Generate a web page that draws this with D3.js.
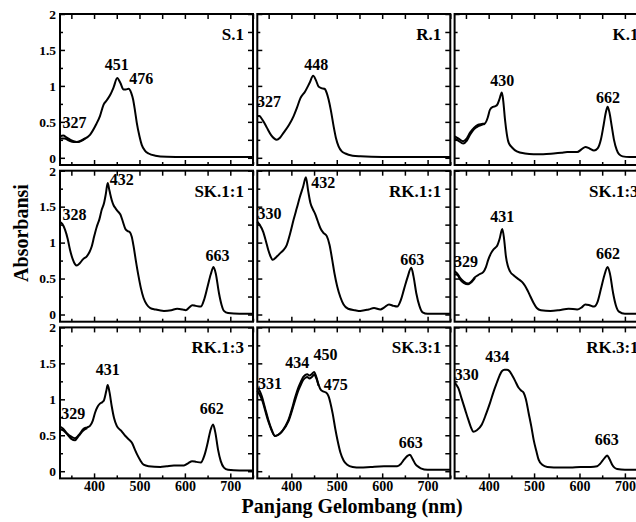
<!DOCTYPE html>
<html>
<head>
<meta charset="utf-8">
<script src="https://cdn.jsdelivr.net/npm/d3@7"></script>
<style>
  body { margin: 0; background: #fff; }
  svg { display: block; }
</style>
</head>
<body>
<div id="chart"></div>
<script>
// spectra: [wavelength nm, absorbance]
var s1 = [[325,0.30],[332,0.31],[340,0.28],[348,0.25],[355,0.23],[362,0.22],[375,0.25],[391,0.32],[405,0.47],[413,0.58],[421,0.74],[428,0.80],[436,0.88],[443,0.98],[451,1.11],[458,1.04],[465,0.95],[470,0.95],[476,0.96],[482,0.90],[486,0.81],[490,0.66],[494,0.49],[500,0.30],[505,0.18],[512,0.10],[520,0.06],[535,0.03],[560,0.015],[600,0.01],[650,0.01],[700,0.01],[750,0.01]];
var s1b = [[325,0.27],[335,0.27],[345,0.24],[355,0.22],[365,0.22],[380,0.27]];
var r1 = [[325,0.58],[330,0.58],[334,0.55],[340,0.49],[346,0.42],[355,0.32],[362,0.27],[368,0.25],[375,0.28],[383,0.35],[395,0.46],[405,0.58],[412,0.69],[420,0.83],[430,0.92],[440,1.04],[448,1.14],[454,1.08],[460,0.99],[466,0.97],[473,0.96],[478,0.90],[482,0.81],[487,0.66],[493,0.44],[498,0.28],[504,0.16],[511,0.09],[519,0.06],[535,0.03],[552,0.02],[600,0.01],[650,0.01],[700,0.01],[750,0.01]];
var k1 = [[325,0.30],[333,0.27],[344,0.23],[352,0.27],[359,0.35],[368,0.42],[377,0.46],[385,0.47],[392,0.48],[398,0.56],[403,0.67],[410,0.71],[415,0.72],[419,0.74],[424,0.82],[429,0.91],[432,0.80],[436,0.53],[440,0.33],[444,0.21],[452,0.14],[462,0.09],[480,0.06],[499,0.05],[520,0.05],[543,0.06],[560,0.07],[573,0.08],[595,0.08],[605,0.12],[613,0.15],[622,0.13],[632,0.10],[640,0.13],[647,0.25],[653,0.45],[658,0.63],[662,0.71],[666,0.63],[671,0.44],[676,0.25],[682,0.11],[687,0.05],[695,0.02],[710,0.01],[750,0.01]];
var k1b = [[325,0.27],[333,0.24],[344,0.20],[352,0.24],[359,0.32],[368,0.40],[377,0.44],[385,0.46],[392,0.47]];
var sk11 = [[325,1.29],[330,1.26],[336,1.18],[342,1.05],[347,0.90],[353,0.77],[358,0.70],[362,0.68],[368,0.71],[376,0.77],[384,0.81],[390,0.87],[395,0.95],[400,1.08],[406,1.22],[412,1.33],[417,1.46],[422,1.55],[426,1.68],[430,1.83],[434,1.72],[439,1.59],[443,1.52],[447,1.48],[453,1.43],[458,1.39],[463,1.30],[469,1.19],[474,1.16],[478,1.15],[483,1.08],[487,0.95],[492,0.75],[498,0.53],[503,0.37],[509,0.23],[516,0.14],[524,0.09],[535,0.07],[554,0.05],[570,0.06],[583,0.08],[595,0.07],[602,0.06],[610,0.10],[616,0.13],[624,0.12],[635,0.11],[643,0.22],[650,0.39],[657,0.56],[663,0.66],[668,0.57],[675,0.30],[681,0.13],[686,0.05],[695,0.02],[720,0.01],[750,0.01]];
var rk11 = [[325,1.29],[330,1.25],[338,1.15],[344,1.02],[349,0.90],[354,0.81],[359,0.76],[367,0.80],[375,0.85],[383,0.90],[390,0.97],[397,1.12],[405,1.32],[412,1.48],[419,1.64],[426,1.78],[432,1.91],[437,1.72],[442,1.55],[447,1.47],[453,1.39],[458,1.30],[464,1.20],[470,1.14],[478,1.09],[484,0.97],[490,0.76],[495,0.57],[501,0.39],[508,0.24],[515,0.14],[525,0.08],[540,0.06],[552,0.05],[570,0.07],[582,0.09],[596,0.07],[605,0.10],[615,0.14],[625,0.12],[633,0.11],[641,0.20],[648,0.35],[656,0.52],[664,0.65],[669,0.53],[675,0.30],[682,0.12],[689,0.03],[700,0.01],[750,0.01]];
var sk13 = [[325,0.60],[331,0.57],[337,0.51],[345,0.46],[355,0.43],[362,0.46],[370,0.52],[380,0.56],[388,0.59],[394,0.66],[399,0.76],[405,0.85],[410,0.90],[415,0.93],[419,0.96],[424,1.05],[430,1.19],[434,1.05],[438,0.81],[442,0.68],[447,0.60],[456,0.54],[466,0.49],[474,0.45],[480,0.40],[486,0.33],[492,0.25],[499,0.16],[506,0.09],[515,0.06],[536,0.05],[555,0.06],[576,0.08],[595,0.07],[605,0.10],[613,0.14],[622,0.13],[632,0.11],[640,0.18],[647,0.35],[655,0.55],[662,0.66],[667,0.57],[674,0.30],[680,0.13],[687,0.04],[700,0.01],[750,0.01]];
var sk13b = [[325,0.56],[331,0.55],[337,0.49],[345,0.44],[355,0.42],[362,0.45],[370,0.51]];
var rk13 = [[325,0.62],[332,0.59],[340,0.53],[350,0.48],[358,0.46],[366,0.50],[377,0.59],[385,0.61],[391,0.63],[397,0.70],[402,0.81],[408,0.90],[413,0.94],[418,0.96],[422,0.99],[427,1.12],[430,1.20],[434,1.10],[439,0.90],[444,0.74],[450,0.63],[460,0.56],[469,0.49],[477,0.44],[484,0.39],[490,0.30],[495,0.23],[502,0.15],[509,0.09],[520,0.07],[546,0.06],[560,0.07],[576,0.08],[598,0.08],[607,0.11],[616,0.14],[625,0.13],[635,0.12],[643,0.22],[650,0.39],[656,0.56],[662,0.65],[667,0.54],[673,0.30],[679,0.14],[686,0.05],[695,0.02],[720,0.01],[750,0.01]];
var rk13b = [[325,0.58],[332,0.57],[340,0.52],[350,0.45],[358,0.43],[366,0.49],[377,0.57],[385,0.60]];
var sk31 = [[325,1.16],[330,1.12],[335,1.04],[342,0.88],[349,0.72],[356,0.59],[364,0.49],[372,0.51],[379,0.55],[387,0.63],[394,0.72],[401,0.86],[408,1.02],[414,1.14],[420,1.23],[426,1.31],[431,1.34],[435,1.35],[440,1.33],[445,1.35],[450,1.38],[455,1.31],[460,1.20],[465,1.13],[470,1.11],[477,1.09],[482,1.04],[486,0.95],[491,0.80],[497,0.58],[502,0.42],[508,0.26],[515,0.15],[523,0.09],[535,0.06],[552,0.05],[575,0.06],[604,0.07],[633,0.07],[641,0.10],[648,0.16],[655,0.21],[661,0.23],[667,0.17],[674,0.09],[680,0.06],[685,0.04],[700,0.02],[750,0.02]];
var sk31b = [[325,1.12],[335,1.00],[349,0.70],[364,0.49],[379,0.55],[394,0.70],[408,0.98],[414,1.10],[420,1.19],[426,1.27],[431,1.30],[435,1.31],[440,1.29],[445,1.31],[450,1.34],[455,1.29],[460,1.19]];
var rk31 = [[325,1.23],[329,1.20],[333,1.16],[340,1.02],[348,0.86],[355,0.72],[361,0.61],[366,0.55],[374,0.57],[385,0.65],[394,0.79],[403,0.95],[410,1.09],[418,1.23],[424,1.33],[429,1.39],[435,1.41],[440,1.41],[446,1.39],[451,1.34],[458,1.26],[466,1.16],[472,1.12],[477,1.09],[482,1.00],[488,0.81],[494,0.62],[499,0.44],[505,0.28],[510,0.16],[518,0.09],[529,0.06],[558,0.05],[580,0.05],[602,0.06],[625,0.06],[639,0.07],[645,0.10],[650,0.14],[656,0.19],[661,0.22],[666,0.17],[672,0.09],[677,0.05],[683,0.03],[700,0.02],[750,0.02]];

// peak labels: [text, wavelength, absorbance] of the label's anchor
var s1Peaks = [["451",450,1.22],["476",504,1.02],["327",357,0.42]];
var r1Peaks = [["448",455,1.22],["327",351,0.71]];
var k1Peaks = [["430",430,1.00],["662",663,0.76]];
var sk11Peaks = [["432",461,1.80],["328",357,1.32],["663",672,0.74]];
var rk11Peaks = [["432",470,1.76],["330",352,1.33],["663",666,0.69]];
var sk13Peaks = [["431",430,1.28],["329",350,0.66],["662",663,0.77]];
var rk13Peaks = [["431",430,1.34],["329",354,0.72],["662",659,0.79]];
var sk31Peaks = [["434",413,1.43],["450",475,1.54],["475",498,1.13],["331",353,1.14],["663",663,0.32]];
var rk31Peaks = [["434",419,1.52],["330",352,1.27],["663",660,0.36]];

var panelNames = ["S.1","R.1","K.1","SK.1:1","RK.1:1","SK.1:3","RK.1:3","SK.3:1","RK.3:1"];
var panelSeries = [[s1,s1b],[r1],[k1,k1b],[sk11],[rk11],[sk13,sk13b],[rk13,rk13b],[sk31,sk31b],[rk31]];
var panelPeaks = [s1Peaks,r1Peaks,k1Peaks,sk11Peaks,rk11Peaks,sk13Peaks,rk13Peaks,sk31Peaks,rk31Peaks];

var xTicks = [400,500,600,700],
    xMinor = [350,450,550,650,750],
    yTicks = [0,0.5,1,1.5,2],
    yTickLabels = ["0","0.5","1","1.5","2"],
    yMinor = [0.25,0.75,1.25,1.75];

var W = 636, H = 522,
    colX0 = 60, colStep = 197.3, pw = 193,
    rowY0 = 14, rowStep = 156.7, ph = 151,
    font = "'Liberation Serif', 'Times New Roman', serif";

var svg = d3.select("#chart").append("svg")
    .attr("width", W)
    .attr("height", H)
    .style("font-family", font)
    .style("font-weight", "bold");

var x = d3.scaleLinear().domain([325, 750]).range([0, pw]);
var y = d3.scaleLinear().domain([-0.1, 2]).range([ph, 0]);

var line = d3.line()
    .x(function(d) { return x(d[0]); })
    .y(function(d) { return y(d[1]); })
    .curve(d3.curveMonotoneX);

function styleAxis(g) {
  g.select(".domain").remove();
  g.selectAll("line").attr("stroke", "#000").attr("stroke-width", 1.5);
  g.selectAll("text").attr("fill", "#000").style("font-family", font).style("font-weight", "bold");
}

panelNames.forEach(function(name, i) {
  var col = i % 3, row = Math.floor(i / 3);
  var g = svg.append("g")
      .attr("transform", "translate(" + (colX0 + col * colStep) + "," + (rowY0 + row * rowStep) + ")");

  // ticks, all inward
  g.append("g").attr("transform", "translate(0," + ph + ")")
      .call(d3.axisBottom(x).tickValues(xTicks).tickSize(-5).tickPadding(3)
        .tickFormat(function(d) { return row === 2 ? d : ""; }))
      .call(styleAxis)
      .selectAll("text").style("font-size", "14px");
  g.append("g").attr("transform", "translate(0," + ph + ")")
      .call(d3.axisBottom(x).tickValues(xMinor).tickSize(-3).tickFormat(""))
      .call(styleAxis);
  g.append("g")
      .call(d3.axisTop(x).tickValues(xTicks.concat(xMinor)).tickSize(-5).tickFormat(""))
      .call(styleAxis);
  g.append("g")
      .call(d3.axisLeft(y).tickValues(yTicks).tickSize(-5).tickPadding(4)
        .tickFormat(function(d, j) { return col === 0 ? yTickLabels[j] : ""; }))
      .call(styleAxis)
      .selectAll("text").style("font-size", "13.5px");
  g.append("g")
      .call(d3.axisLeft(y).tickValues(yMinor).tickSize(-3).tickFormat(""))
      .call(styleAxis);
  g.append("g").attr("transform", "translate(" + pw + ",0)")
      .call(d3.axisRight(y).tickValues(yTicks.concat(yMinor)).tickSize(-5).tickFormat(""))
      .call(styleAxis);

  g.selectAll(".spec")
      .data(panelSeries[i])
      .enter().append("path")
        .attr("class", "spec")
        .attr("d", line)
        .attr("fill", "none")
        .attr("stroke", "#000")
        .attr("stroke-width", 2)
        .attr("stroke-linejoin", "round");

  g.selectAll(".peak")
      .data(panelPeaks[i])
      .enter().append("text")
        .attr("class", "peak")
        .attr("x", function(d) { return x(d[1]); })
        .attr("y", function(d) { return y(d[2]); })
        .attr("text-anchor", "middle")
        .style("font-size", "16px")
        .text(function(d) { return d[0]; });

  g.append("text")
      .attr("x", pw - 9)
      .attr("y", 26)
      .attr("text-anchor", "end")
      .style("font-size", "17px")
      .text(name);

  g.append("rect")
      .attr("width", pw)
      .attr("height", ph)
      .attr("fill", "none")
      .attr("stroke", "#000")
      .attr("stroke-width", 2);
});

svg.append("text")
    .attr("transform", "translate(28,233) rotate(-90)")
    .attr("text-anchor", "middle")
    .style("font-size", "20px")
    .text("Absorbansi");

svg.append("text")
    .attr("x", 352)
    .attr("y", 513)
    .attr("text-anchor", "middle")
    .style("font-size", "20px")
    .text("Panjang Gelombang (nm)");
</script>
</body>
</html>
